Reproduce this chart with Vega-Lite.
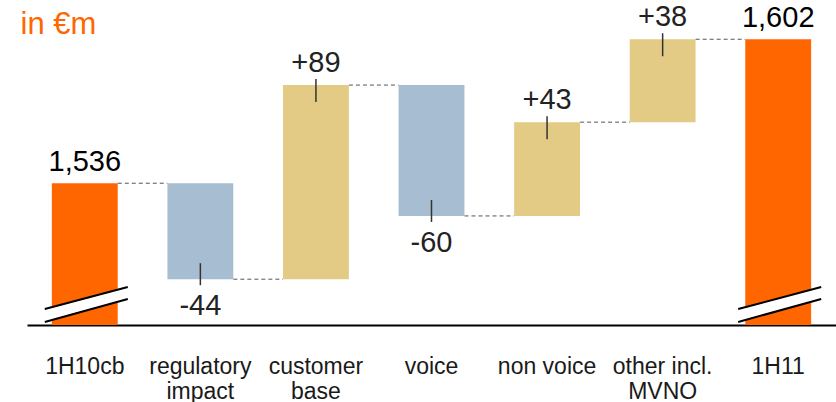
{
  "$schema": "https://vega.github.io/schema/vega-lite/v6.json",
  "width": 809,
  "height": 325,
  "autosize": {"type": "none"},
  "padding": {"left": 27, "top": 0, "right": 0, "bottom": 77},
  "config": {"view": {"stroke": null}, "font": "Liberation Sans"},
  "data": {
    "values": [
      {"cat": "1H10cb", "start": 0, "end": 1536, "kind": "total", "next": "regulatory|impact", "lab": "1,536"},
      {"cat": "regulatory|impact", "start": 1536, "end": 1492, "kind": "neg", "next": "customer|base", "lab": "-44"},
      {"cat": "customer|base", "start": 1492, "end": 1581, "kind": "pos", "next": "voice", "lab": "+89"},
      {"cat": "voice", "start": 1581, "end": 1521, "kind": "neg", "next": "non voice", "lab": "-60"},
      {"cat": "non voice", "start": 1521, "end": 1564, "kind": "pos", "next": "other incl.|MVNO", "lab": "+43"},
      {"cat": "other incl.|MVNO", "start": 1564, "end": 1602, "kind": "pos", "next": "1H11", "lab": "+38"},
      {"cat": "1H11", "start": 0, "end": 1602, "kind": "total", "next": null, "lab": "1,602"}
    ]
  },
  "encoding": {
    "x": {
      "field": "cat",
      "type": "nominal",
      "scale": {
        "domain": ["1H10cb", "regulatory|impact", "customer|base", "voice", "non voice", "other incl.|MVNO", "1H11"],
        "paddingInner": 0.43,
        "paddingOuter": 0.215
      },
      "axis": {
        "title": null,
        "labelExpr": "split(datum.label, '|')",
        "labelAngle": 0,
        "labelFontSize": 23,
        "labelColor": "#1a1a1a",
        "labelPadding": 30,
        "labelBaseline": "top",
        "labelLineHeight": 25,
        "ticks": false,
        "domainColor": "#000000",
        "domainWidth": 2,
        "labelFont": "Liberation Sans"
      }
    }
  },
  "layer": [
    {
      "mark": {"type": "bar", "clip": true},
      "encoding": {
        "y": {
          "field": "start",
          "type": "quantitative",
          "scale": {"domain": [1471, 1620], "zero": false, "nice": false},
          "axis": {
            "title": "in €m",
            "titleAngle": 0,
            "titleX": -7,
            "titleY": 33,
            "titleAlign": "left",
            "titleBaseline": "alphabetic",
            "titleFontSize": 31,
            "titleFontWeight": "normal",
            "titleColor": "#FF6600",
            "titleFont": "Liberation Sans",
            "labels": false,
            "ticks": false,
            "domain": false,
            "grid": false
          }
        },
        "y2": {"field": "end"},
        "color": {
          "field": "kind",
          "type": "nominal",
          "scale": {"domain": ["total", "neg", "pos"], "range": ["#FF6600", "#A7BDD1", "#E3CB85"]},
          "legend": null
        }
      }
    },
    {
      "transform": [{"filter": "datum.next != null"}],
      "mark": {"type": "rule", "color": "#555555", "strokeWidth": 1, "strokeDash": [4, 3], "xOffset": 33, "x2Offset": -33},
      "encoding": {
        "x2": {"field": "next"},
        "y": {"field": "end", "type": "quantitative"}
      }
    },
    {
      "transform": [{"filter": "datum.kind == 'total'"}],
      "mark": {"type": "rule", "color": "#FFFFFF", "strokeWidth": 11, "xOffset": -40, "x2Offset": 43},
      "encoding": {
        "x2": {"field": "cat"},
        "y": {"datum": 1475.35},
        "y2": {"datum": 1485.67}
      }
    },
    {
      "transform": [{"filter": "datum.kind == 'total'"}],
      "mark": {"type": "rule", "color": "#000000", "strokeWidth": 2, "xOffset": -40, "x2Offset": 43},
      "encoding": {
        "x2": {"field": "cat"},
        "y": {"datum": 1478.3},
        "y2": {"datum": 1488.4}
      }
    },
    {
      "transform": [{"filter": "datum.kind == 'total'"}],
      "mark": {"type": "rule", "color": "#000000", "strokeWidth": 2, "xOffset": -40, "x2Offset": 43},
      "encoding": {
        "x2": {"field": "cat"},
        "y": {"datum": 1472.4},
        "y2": {"datum": 1482.9}
      }
    },
    {
      "transform": [{"filter": "datum.kind == 'pos'"}],
      "mark": {"type": "rule", "color": "#333333", "strokeWidth": 1.5, "yOffset": -6, "y2Offset": 17},
      "encoding": {
        "y": {"field": "end", "type": "quantitative"},
        "y2": {"field": "end"}
      }
    },
    {
      "transform": [{"filter": "datum.kind == 'neg'"}],
      "mark": {"type": "rule", "color": "#333333", "strokeWidth": 1.5, "yOffset": -16, "y2Offset": 6},
      "encoding": {
        "y": {"field": "end", "type": "quantitative"},
        "y2": {"field": "end"}
      }
    },
    {
      "transform": [{"filter": "datum.kind == 'pos'"}],
      "mark": {"type": "text", "fontSize": 29, "color": "#222222", "baseline": "alphabetic", "dy": -13},
      "encoding": {
        "y": {"field": "end", "type": "quantitative"},
        "text": {"field": "lab"}
      }
    },
    {
      "transform": [{"filter": "datum.kind == 'neg'"}],
      "mark": {"type": "text", "fontSize": 29, "color": "#222222", "baseline": "alphabetic", "dy": 36},
      "encoding": {
        "y": {"field": "end", "type": "quantitative"},
        "text": {"field": "lab"}
      }
    },
    {
      "transform": [{"filter": "datum.kind == 'total'"}],
      "mark": {"type": "text", "fontSize": 29, "color": "#000000", "baseline": "alphabetic", "dy": -12},
      "encoding": {
        "y": {"field": "end", "type": "quantitative"},
        "text": {"field": "lab"}
      }
    }
  ]
}
